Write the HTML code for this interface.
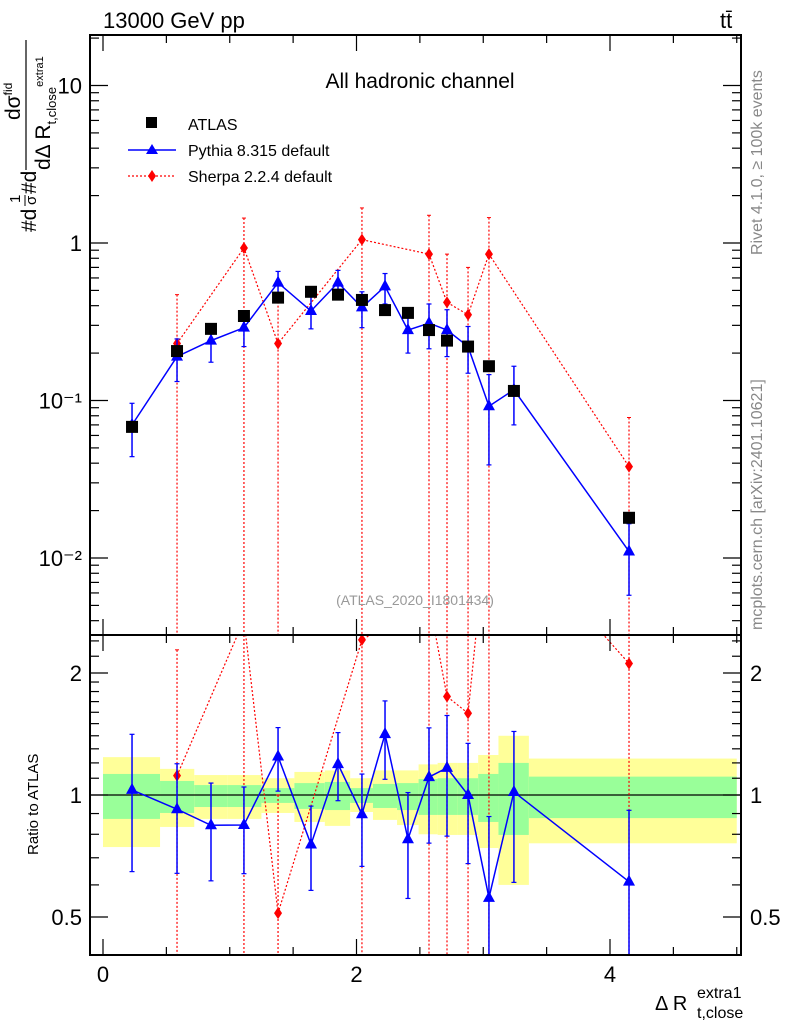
<!DOCTYPE html>
<html><head><meta charset="utf-8"><style>
html,body{margin:0;background:#fff;width:786px;height:1024px;overflow:hidden;position:relative;}
svg{display:block;font-family:"Liberation Sans",sans-serif;}
</style></head><body>
<svg id="c" width="786" height="1024" viewBox="0 0 786 1024" style="position:absolute;left:0;top:0"></svg>
<script>
const edges=[0,0.45,0.72,0.98,1.25,1.51,1.75,1.95,2.13,2.32,2.49,2.64,2.80,2.96,3.12,3.36,5.0];
const xCenters=[0.229,0.584,0.852,1.112,1.381,1.641,1.854,2.043,2.225,2.406,2.572,2.714,2.880,3.045,3.242,4.15];
const atlas=[0.068,0.206,0.285,0.344,0.45,0.49,0.47,0.435,0.375,0.36,0.28,0.24,0.22,0.165,0.115,0.018];
const pythia=[0.07,0.19,0.24,0.29,0.56,0.37,0.56,0.39,0.53,0.28,0.31,0.28,0.22,0.092,0.117,0.011];
const pythiaUp=[0.096,0.246,0.305,0.36,0.66,0.46,0.67,0.49,0.64,0.365,0.41,0.377,0.295,0.146,0.165,0.0165];
const pythiaDn=[0.044,0.132,0.175,0.22,0.46,0.285,0.455,0.29,0.41,0.2,0.213,0.19,0.149,0.039,0.07,0.0058];
const sherpaIdx=[1,3,4,7,10,11,12,13,15];
const sherpa=[0.23,0.93,0.23,1.05,0.85,0.42,0.35,0.85,0.038];
const sherpaUp=[0.47,1.44,0.45,1.67,1.5,0.85,0.7,1.45,0.078];
const sherpaDn=[1e-5,1e-5,1e-5,1e-5,1e-5,1e-5,1e-5,1e-5,1e-5];
const yellowUp=[1.24,1.16,1.12,1.12,1.10,1.14,1.15,1.10,1.15,1.15,1.19,1.2,1.2,1.255,1.40,1.23];
const yellowDn=[0.744,0.834,0.873,0.873,0.903,0.858,0.839,0.908,0.868,0.843,0.80,0.797,0.797,0.74,0.60,0.76];
const greenUp=[1.127,1.083,1.058,1.058,1.04,1.07,1.077,1.04,1.065,1.07,1.095,1.10,1.10,1.127,1.2,1.11];
const greenDn=[0.873,0.903,0.934,0.934,0.956,0.924,0.918,0.956,0.929,0.918,0.893,0.893,0.893,0.858,0.797,0.877];
const mainYTicks=[0.01,0.1,1,10];
const mainYLabels=["10\u207B\u00B2","10\u207B\u00B9","1","10"];
const ratioTicks=[0.5,1,2];
const xTicks=[0,2,4];

const NS="http://www.w3.org/2000/svg";
const svg=document.getElementById('c');
const L=90,R=741,T=35,M=635,B=955;
const X=v=>103+v*126.75;
const Y=v=>243-157.5*Math.log10(v);
const YR=v=>795-122*Math.log2(v);
function el(tag,attrs,parent){const e=document.createElementNS(NS,tag);for(const k in attrs)e.setAttribute(k,attrs[k]);(parent||svg).appendChild(e);return e;}
function txt(s,attrs,parent){const e=el('text',attrs,parent);e.textContent=s;return e;}

const defs=el('defs',{});
const c1=el('clipPath',{id:'cm'},defs);el('rect',{x:L,y:T,width:R-L,height:M-T},c1);
const c2=el('clipPath',{id:'cr'},defs);el('rect',{x:L,y:M,width:R-L,height:B-M},c2);
const gm=el('g',{'clip-path':'url(#cm)'});


const gr=el('g',{'clip-path':'url(#cr)'});



for(let i=0;i<atlas.length;i++){
  const x0=X(edges[i]),x1=X(edges[i+1]);
  const y=el('rect',{x:x0,y:YR(yellowUp[i]),width:x1-x0,height:YR(yellowDn[i])-YR(yellowUp[i]),fill:'#ffff99'},gr);
  
  
  const g=el('rect',{x:x0,y:YR(greenUp[i]),width:x1-x0,height:YR(greenDn[i])-YR(greenUp[i]),fill:'#99ff99'},gr);
  
  
}
el('line',{x1:L,x2:R,y1:YR(1),y2:YR(1),stroke:'#000','stroke-width':1.2},gr);

function sherpaDraw(g,yf,vals,ups,dns){
  let pts=sherpaIdx.map((k,j)=>X(xCenters[k])+','+yf(vals[j])).join(' ');
  const pl=el('polyline',{points:pts,fill:'none',stroke:'#f00','stroke-width':1.2,'stroke-dasharray':'2,2'},g);
  
  
  sherpaIdx.forEach((k,j)=>{
    const x=X(xCenters[k]),y=yf(vals[j]);
    el('line',{x1:x,x2:x,y1:yf(ups[j]),y2:yf(dns[j]),stroke:'#f00','stroke-width':1.2,'stroke-dasharray':'2,2'},g);
    el('line',{x1:x-2,x2:x+2,y1:yf(ups[j]),y2:yf(ups[j]),stroke:'#f00','stroke-width':1},g);
    const d=el('polygon',{points:`${x},${y-6} ${x+4},${y} ${x},${y+6} ${x-4},${y}`,fill:'#f00'},g);
    
    
  });
}
function pythiaDraw(g,yf,vals,ups,dns){
  const pts=xCenters.map((x,i)=>X(x)+','+yf(vals[i])).join(' ');
  const pl=el('polyline',{points:pts,fill:'none',stroke:'#00f','stroke-width':1.5},g);
  
  
  xCenters.forEach((xv,i)=>{
    const x=X(xv),y=yf(vals[i]);
    el('line',{x1:x,x2:x,y1:yf(ups[i]),y2:yf(dns[i]),stroke:'#00f','stroke-width':1.5},g);
    el('line',{x1:x-2.5,x2:x+2.5,y1:yf(ups[i]),y2:yf(ups[i]),stroke:'#00f','stroke-width':1.2},g);
    el('line',{x1:x-2.5,x2:x+2.5,y1:yf(dns[i]),y2:yf(dns[i]),stroke:'#00f','stroke-width':1.2},g);
    const t=el('polygon',{points:`${x},${y-7} ${x+6},${y+4} ${x-6},${y+4}`,fill:'#00f'},g);
    
    
  });
}
sherpaDraw(gm,Y,sherpa,sherpaUp,sherpaDn);
pythiaDraw(gm,Y,pythia,pythiaUp,pythiaDn);
xCenters.forEach((xv,i)=>{
  const s=el('rect',{x:X(xv)-6,y:Y(atlas[i])-6,width:12,height:12,fill:'#000'},gm);
  
  
});
sherpaDraw(gr,YR,sherpa.map((v,j)=>v/atlas[sherpaIdx[j]]),sherpaUp.map((v,j)=>v/atlas[sherpaIdx[j]]),sherpaDn.map((v,j)=>v/atlas[sherpaIdx[j]]));
pythiaDraw(gr,YR,pythia.map((v,i)=>v/atlas[i]),pythiaUp.map((v,i)=>v/atlas[i]),pythiaDn.map((v,i)=>v/atlas[i]));

el('rect',{x:L,y:T,width:R-L,height:M-T,fill:'none',stroke:'#000','stroke-width':2});
el('rect',{x:L,y:M,width:R-L,height:B-M,fill:'none',stroke:'#000','stroke-width':2});
for(let v=0;v<=5.01;v+=0.5){
  const x=X(v),major=Math.abs(v-Math.round(v/2)*2)<1e-6;
  const h=major?16:8;
  [[T,1],[M,-1],[M,1],[B,-1]].forEach(([y0,d])=>el('line',{x1:x,x2:x,y1:y0,y2:y0+d*h,stroke:'#000','stroke-width':1.2}));
}
xTicks.forEach(v=>{const t=txt(String(v),{x:X(v),y:982,'font-size':22,'text-anchor':'middle'});
});
for(let e=-3;e<=1;e++){for(let m=1;m<=9;m++){const v=m*Math.pow(10,e);const y=Y(v);if(y<T||y>M)continue;
  const h=m==1?18:9;
  el('line',{x1:L,x2:L+h,y1:y,y2:y,stroke:'#000','stroke-width':1.2});
  el('line',{x1:R,x2:R-h,y1:y,y2:y,stroke:'#000','stroke-width':1.2});}}
mainYTicks.forEach((v,i)=>{const t=txt(mainYLabels[i],{x:82,y:Y(v)+8,'font-size':22,'text-anchor':'end'});
});
[0.5,0.6,0.7,0.8,0.9,1,1.1,1.2,1.3,1.4,1.5,1.6,1.7,1.8,1.9,2,2.2,2.4].forEach(v=>{const y=YR(v);
  const h=(v==0.5||v==1||v==2)?18:9;
  el('line',{x1:L,x2:L+h,y1:y,y2:y,stroke:'#000','stroke-width':1.2});
  el('line',{x1:R,x2:R-h,y1:y,y2:y,stroke:'#000','stroke-width':1.2});});
ratioTicks.forEach(v=>{
  const a=txt(String(v),{x:82,y:YR(v)+8,'font-size':22,'text-anchor':'end'});
  
  const b=txt(String(v),{x:750,y:YR(v)+8,'font-size':22});
  
});
</script>
<svg width="786" height="1024" style="position:absolute;left:0;top:0;font-family:'Liberation Sans',sans-serif">
<text x="103" y="28" font-size="22">13000 GeV pp</text>
<text x="720" y="28" font-size="22">tt̄</text>
<text x="420" y="88" font-size="21" text-anchor="middle">All hadronic channel</text>
<rect x="146" y="117" width="11" height="11" fill="#000"/>
<text x="188" y="130" font-size="16">ATLAS</text>
<line x1="128" x2="176" y1="150" y2="150" stroke="#00f" stroke-width="1.5"/>
<polygon points="152,144 158,154 146,154" fill="#00f"/>
<text x="188" y="156" font-size="16">Pythia 8.315 default</text>
<line x1="128" x2="176" y1="176" y2="176" stroke="#f00" stroke-width="1.2" stroke-dasharray="2,2"/>
<polygon points="152,170 156,176 152,182 148,176" fill="#f00"/>
<text x="188" y="182" font-size="16">Sherpa 2.2.4 default</text>
<text x="415" y="605" font-size="14" fill="#999" text-anchor="middle">(ATLAS_2020_I1801434)</text>
<text transform="translate(762,255) rotate(-90)" font-size="16" fill="#888">Rivet 4.1.0, ≥ 100k events</text>
<text transform="translate(762,630) rotate(-90)" font-size="16" fill="#888">mcplots.cern.ch [arXiv:2401.10621]</text>
<g>
<text transform="translate(36,232) rotate(-90)" font-size="21">#d</text>
<text transform="translate(20,203) rotate(-90)" font-size="15">1</text>
<line x1="25" x2="25" y1="195" y2="206" stroke="#000" stroke-width="1"/>
<text transform="translate(36,205) rotate(-90)" font-size="15">σ</text>
<text transform="translate(36,194) rotate(-90)" font-size="21">#d</text>
<line x1="26" x2="26" y1="40" y2="170" stroke="#000" stroke-width="1.2"/>
<text transform="translate(20,120) rotate(-90)" font-size="21">dσ<tspan font-size="12" dy="-8">fid</tspan></text>
<text transform="translate(50,170) rotate(-90)" font-size="21">dΔ R<tspan font-size="13" dy="6">t,close</tspan><tspan font-size="11" dy="-13">extra1</tspan></text>
</g>
<text transform="translate(38,855) rotate(-90)" font-size="15">Ratio to ATLAS</text>
<text x="655" y="1010" font-size="20">Δ R</text>
<text x="697" y="998" font-size="16">extra1</text>
<text x="697" y="1018" font-size="16">t,close</text>
</svg>
</body></html>
